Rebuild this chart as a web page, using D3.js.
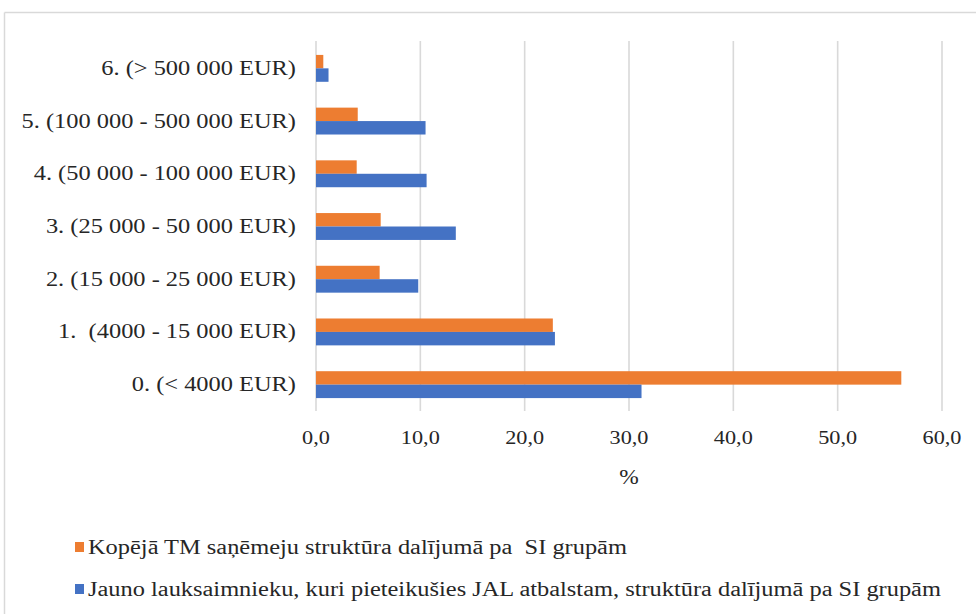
<!DOCTYPE html>
<html><head><meta charset="utf-8">
<script src="https://cdn.jsdelivr.net/npm/d3@7"></script>
<style>body{margin:0;background:#fff}svg{display:block}text{font-family:"Liberation Serif","Times New Roman",serif;fill:#262626;white-space:pre}</style>
</head><body>
<script>
const categories = ["0. (< 4000 EUR)", "1.  (4000 - 15 000 EUR)", "2. (15 000 - 25 000 EUR)", "3. (25 000 - 50 000 EUR)", "4. (50 000 - 100 000 EUR)", "5. (100 000 - 500 000 EUR)", "6. (> 500 000 EUR)"];
const seriesNames = ["Kopējā TM saņēmeju struktūra dalījumā pa  SI grupām", "Jauno lauksaimnieku, kuri pieteikušies JAL atbalstam, struktūra dalījumā pa SI grupām"];
const totalTM = [56.1, 22.7, 6.1, 6.2, 3.9, 4.0, 0.7];
const youngFarmers = [31.2, 22.9, 9.8, 13.4, 10.6, 10.5, 1.2];
const xTicks = [0, 10, 20, 30, 40, 50, 60];
const colors = ["#ED7D31", "#4472C4"];

const W = 976, H = 614;
const svg = d3.select("body").append("svg").attr("width", W).attr("height", H);

// frame
svg.append("line").attr("x1", 4.5).attr("x2", W).attr("y1", 12.5).attr("y2", 12.5).attr("stroke", "#d9d9d9").attr("stroke-width", 1.5);
svg.append("line").attr("x1", 4.5).attr("x2", 4.5).attr("y1", 12.5).attr("y2", H).attr("stroke", "#d9d9d9").attr("stroke-width", 1.5);

const x = d3.scaleLinear().domain([0, 60]).range([316, 942]);
const y = d3.scaleBand().domain(categories.slice().reverse()).range([42, 411]).paddingInner(0.49).paddingOuter(0.245);
const sub = d3.scaleBand().domain([0, 1]).range([0, y.bandwidth()]);

function stretchText(k) {
  return sel => sel.each(function () {
    const l = this.getComputedTextLength();
    d3.select(this).attr("textLength", l * k).attr("lengthAdjust", "spacingAndGlyphs");
  });
}

// gridlines
svg.append("g").selectAll("line").data(xTicks).join("line")
  .attr("x1", d => x(d)).attr("x2", d => x(d))
  .attr("y1", 41).attr("y2", 411)
  .attr("stroke", "#d9d9d9").attr("stroke-width", 1.6);

// bars
const data = categories.map((c, i) => ({c, v: [totalTM[i], youngFarmers[i]]}));
const g = svg.append("g");
data.forEach(d => {
  d.v.forEach((v, k) => {
    g.append("rect")
      .attr("x", x(0)).attr("y", y(d.c) + sub(k))
      .attr("width", x(v) - x(0)).attr("height", sub.bandwidth())
      .attr("fill", colors[k]);
  });
});

// category labels
svg.append("g").selectAll("text").data(categories).join("text")
  .attr("x", 296).attr("y", d => y(d) + y.bandwidth() / 2 + 6.5)
  .attr("text-anchor", "end").attr("font-size", 20)
  .text(d => d).call(stretchText(1.22));

// tick labels
svg.append("g").selectAll("text").data(xTicks).join("text")
  .attr("x", d => x(d)).attr("y", 444)
  .attr("text-anchor", "middle").attr("font-size", 19)
  .text(d => d3.format(".1f")(d).replace(".", ",")).call(stretchText(1.17));

svg.append("text").attr("x", x(30)).attr("y", 484).attr("text-anchor", "middle").attr("font-size", 20).text("%").call(stretchText(1.17));

// legend
const leg = svg.append("g");
seriesNames.forEach((s, k) => {
  const yy = 547 + k * 42;
  leg.append("rect").attr("x", 75).attr("y", yy - 5).attr("width", 9).attr("height", 10).attr("fill", colors[k]);
  leg.append("text").attr("x", 88).attr("y", yy + 7).attr("font-size", 20).text(s).call(stretchText(1.22));
});
</script>
</body></html>
